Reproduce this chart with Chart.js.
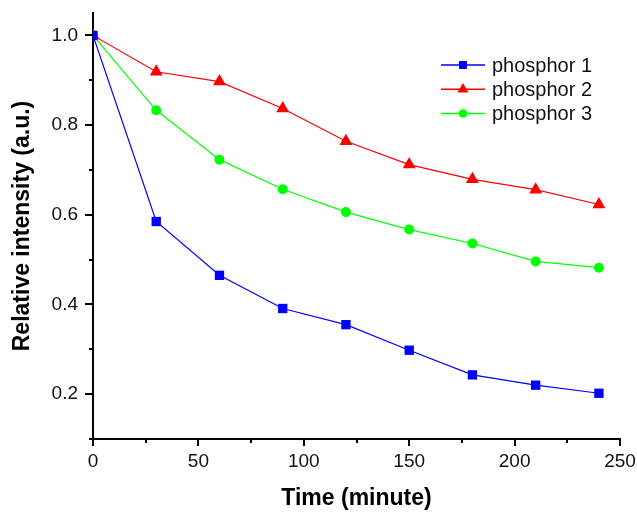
<!DOCTYPE html>
<html>
<head>
<meta charset="utf-8">
<script src="https://cdn.jsdelivr.net/npm/chart.js@4/dist/chart.umd.min.js"></script>
<style>
  html, body { margin: 0; padding: 0; background: #fff; }
  #wrap { width: 637px; height: 512px; }
</style>
</head>
<body>
<div id="wrap"><canvas id="chart" width="637" height="512"></canvas></div>
<script>
// data
const times = [0, 30, 60, 90, 120, 150, 180, 210, 240];
const phosphor1 = [1.0, 0.585, 0.465, 0.391, 0.355, 0.298, 0.243, 0.220, 0.202];
const phosphor2 = [1.0, 0.919, 0.897, 0.837, 0.764, 0.712, 0.679, 0.656, 0.623];
const phosphor3 = [1.0, 0.833, 0.723, 0.657, 0.606, 0.567, 0.536, 0.496, 0.482];
const seriesNames = ['phosphor 1', 'phosphor 2', 'phosphor 3'];

const FONT = "'Liberation Sans', Arial, Helvetica, sans-serif";

function toPoints(values) {
    return times.map((t, i) => ({ x: t, y: values[i] }));
}

function makeSet(label, values, color, style, radius) {
    return {
        label: label,
        data: toPoints(values),
        borderColor: color,
        backgroundColor: color,
        borderWidth: 1.2,
        pointStyle: style,
        pointRadius: radius,
        pointHoverRadius: radius,
        pointBorderWidth: 0,
        pointBackgroundColor: color,
        tension: 0
    };
}

// legend drawn as line + marker like the original
const lineLegend = {
    id: 'lineLegend',
    afterDraw(chart) {
        const ctx = chart.ctx;
        const opts = chart.options.plugins.lineLegend;
        ctx.save();
        chart.data.datasets.forEach((ds, i) => {
            const y = opts.y + i * opts.rowGap;
            ctx.strokeStyle = ds.borderColor;
            ctx.lineWidth = 1.5;
            ctx.beginPath();
            ctx.moveTo(opts.x, y);
            ctx.lineTo(opts.x + opts.lineLen, y);
            ctx.stroke();
            ctx.fillStyle = ds.borderColor;
            Chart.helpers.drawPoint(ctx, {
                pointStyle: ds.pointStyle,
                radius: ds.pointRadius * 0.85,
                rotation: 0,
                borderWidth: 0
            }, opts.x + opts.lineLen / 2, y);
            ctx.fillStyle = '#111';
            ctx.font = '20px ' + FONT;
            ctx.textAlign = 'left';
            ctx.textBaseline = 'middle';
            ctx.fillText(ds.label, opts.x + opts.lineLen + 7, y + 1);
        });
        ctx.restore();
    }
};

// fixed axis sizes, no extra padding for edge labels
function fixWidth(w) {
    return scale => { scale.width = w; scale.paddingTop = 0; scale.paddingBottom = 0; };
}
function fixHeight(h) {
    return scale => { scale.height = h; scale.paddingLeft = 0; scale.paddingRight = 0; };
}

const ctx = document.getElementById('chart').getContext('2d');
new Chart(ctx, {
    type: 'line',
    data: {
        datasets: [
            makeSet(seriesNames[0], phosphor1, '#0000ff', 'rect', 6.6),
            makeSet(seriesNames[1], phosphor2, '#ff0000', 'triangle', 7.5),
            makeSet(seriesNames[2], phosphor3, '#00ff00', 'circle', 5)
        ]
    },
    options: {
        responsive: false,
        animation: false,
        layout: { padding: { top: 13, right: 17, left: 0, bottom: 0 } },
        plugins: {
            legend: { display: false },
            tooltip: { enabled: false },
            lineLegend: { x: 441, y: 65, rowGap: 24.3, lineLen: 44 }
        },
        scales: {
            x: {
                type: 'linear',
                position: 'bottom',
                min: 0, max: 250,
                afterFit: fixHeight(73),
                ticks: { stepSize: 50, padding: 4, color: '#111', font: { family: FONT, size: 19 }, includeBounds: false },
                grid: { drawOnChartArea: false, tickLength: 7, lineWidth: 2, color: '#000' },
                border: { display: true, color: '#000', width: 2 },
                title: { display: true, text: 'Time (minute)', color: '#000', padding: { top: 0, bottom: 0 }, font: { family: FONT, size: 23, weight: 'bold' } }
            },
            x2: {
                type: 'linear',
                position: 'bottom',
                weight: -1,
                min: 0, max: 250,
                afterFit: fixHeight(0),
                ticks: { stepSize: 25, display: false, includeBounds: false },
                grid: { drawOnChartArea: false, tickLength: 4, lineWidth: 2, color: '#000' },
                border: { display: false }
            },
            y: {
                type: 'linear',
                position: 'left',
                weight: 1,
                min: 0.1, max: 1.05,
                afterFit: fixWidth(93),
                ticks: { stepSize: 0.2, padding: 7, color: '#111', font: { family: FONT, size: 19 }, includeBounds: false, callback: v => v.toFixed(1) },
                grid: { drawOnChartArea: false, tickLength: 8, lineWidth: 2, color: '#000' },
                border: { display: true, color: '#000', width: 2 },
                title: { display: true, text: 'Relative intensity (a.u.)', color: '#000', padding: { top: 9, bottom: 0 }, font: { family: FONT, size: 23, weight: 'bold' } }
            },
            y2: {
                type: 'linear',
                position: 'left',
                weight: 0,
                min: 0.1, max: 1.05,
                afterFit: fixWidth(0),
                ticks: { stepSize: 0.1, display: false, includeBounds: false },
                grid: { drawOnChartArea: false, tickLength: 4, lineWidth: 2, color: '#000' },
                border: { display: false }
            }
        }
    },
    plugins: [lineLegend]
});
</script>
</body>
</html>
